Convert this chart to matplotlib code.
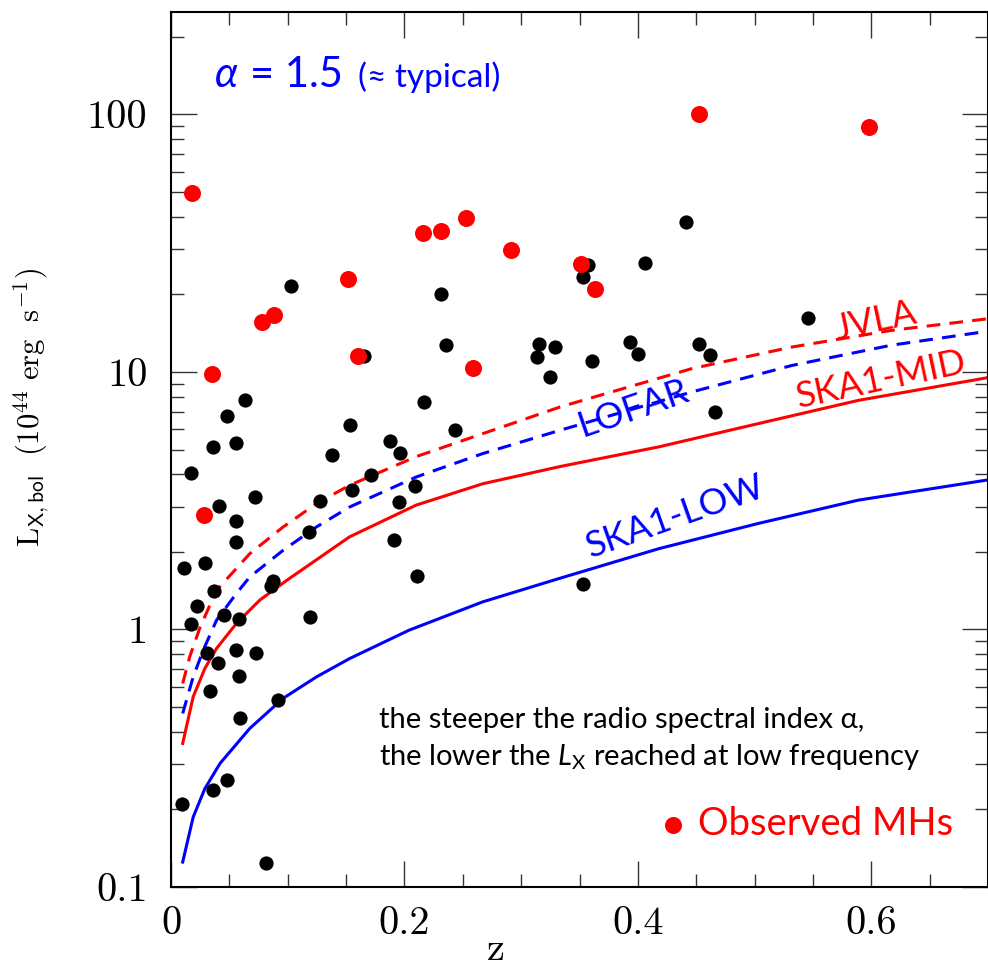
import numpy as np
import matplotlib
matplotlib.use("Agg")
import matplotlib.pyplot as plt

# observed halos: black = all clusters, red = observed mini-halos
z_black = [0.103, 0.231, 0.441, 0.357, 0.353, 0.406, 0.546, 0.165, 0.236, 0.315,
           0.329, 0.314, 0.325, 0.063, 0.048, 0.036, 0.056, 0.017, 0.217, 0.153,
           0.243, 0.138, 0.188, 0.196, 0.171, 0.155, 0.209, 0.128, 0.195, 0.041,
           0.072, 0.056, 0.056, 0.118, 0.191, 0.011, 0.029, 0.211, 0.037, 0.087,
           0.086, 0.361, 0.393, 0.400, 0.452, 0.462, 0.466, 0.353, 0.022, 0.017,
           0.045, 0.058, 0.119, 0.031, 0.040, 0.056, 0.073, 0.058, 0.033, 0.092,
           0.059, 0.048, 0.036, 0.009, 0.081]
L_black = [21.5, 20.1, 38.1, 26.0, 23.4, 26.4, 16.2, 11.5, 12.7, 12.9,
           12.5, 11.4, 9.6, 7.8, 6.75, 5.12, 5.3, 4.07, 7.64, 6.25,
           5.97, 4.78, 5.4, 4.83, 3.98, 3.47, 3.61, 3.15, 3.13, 3.01,
           3.27, 2.63, 2.18, 2.39, 2.22, 1.74, 1.82, 1.62, 1.41, 1.54,
           1.47, 11.0, 13.1, 11.7, 12.9, 11.6, 7.02, 1.50, 1.23, 1.055,
           1.14, 1.10, 1.12, 0.809, 0.738, 0.829, 0.812, 0.661, 0.576, 0.530,
           0.453, 0.261, 0.238, 0.210, 0.124]

z_red = [0.018, 0.152, 0.216, 0.231, 0.253, 0.291, 0.078, 0.088, 0.452, 0.598,
         0.351, 0.363, 0.035, 0.160, 0.259, 0.028]
L_red = [49.6, 23.0, 34.7, 35.4, 39.6, 29.8, 15.7, 16.7, 100.5, 89.8,
         26.3, 21.0, 9.8, 11.5, 10.4, 2.79]

# detection limits
z_jvla = [0.010, 0.016, 0.025, 0.039, 0.0675, 0.096, 0.1245, 0.153, 0.210, 0.267, 0.334, 0.446, 0.532, 0.617, 0.70]
L_jvla = [0.617, 0.783, 1.023, 1.42, 1.97, 2.50, 3.08, 3.63, 4.69, 5.76, 7.33, 10.3, 12.5, 14.5, 16.1]

z_lofar = [0.010, 0.019, 0.0276, 0.039, 0.056, 0.0675, 0.096, 0.1245, 0.153, 0.210, 0.267, 0.334, 0.446, 0.532, 0.617, 0.70]
L_lofar = [0.472, 0.655, 0.831, 1.087, 1.38, 1.60, 2.03, 2.50, 2.99, 3.91, 4.82, 5.95, 8.36, 10.6, 12.7, 14.4]

z_mid = [0.010, 0.019, 0.029, 0.039, 0.056, 0.076, 0.099, 0.153, 0.210, 0.267, 0.334, 0.418, 0.503, 0.589, 0.70]
L_mid = [0.361, 0.548, 0.706, 0.844, 1.055, 1.30, 1.55, 2.29, 3.04, 3.68, 4.30, 5.12, 6.30, 7.76, 9.51]

z_low = [0.010, 0.019, 0.029, 0.042, 0.0675, 0.096, 0.1245, 0.153, 0.204, 0.267, 0.331, 0.418, 0.503, 0.589, 0.70]
L_low = [0.125, 0.187, 0.241, 0.302, 0.413, 0.540, 0.654, 0.771, 0.994, 1.28, 1.57, 2.06, 2.58, 3.18, 3.81]

xticks = [0, 0.2, 0.4, 0.6]
xticklabels = ['0', '0.2', '0.4', '0.6']
yticks = [0.1, 1, 10, 100]
yticklabels = ['0.1', '1', '10', '100']

sans = ['Lato', 'DejaVu Sans']
plt.rcParams['mathtext.fontset'] = 'custom'
plt.rcParams['mathtext.rm'] = 'Lato'
plt.rcParams['mathtext.it'] = 'Lato:italic'

fig = plt.figure(figsize=(9.88, 9.72), dpi=100)
ax = fig.add_axes([0.1731, 0.08745, 0.8269, 0.9002])

dash = (4.5, 3)
ax.plot(z_jvla, L_jvla, color='#ff0000', lw=2.2, dashes=dash)
ax.plot(z_lofar, L_lofar, color='#0000ff', lw=2.2, dashes=dash)
ax.plot(z_mid, L_mid, color='#ff0000', lw=2.2)
ax.plot(z_low, L_low, color='#0000ff', lw=2.2)

ax.scatter(z_black, L_black, s=105, color='k', lw=0, zorder=3)
ax.scatter(z_red, L_red, s=150, color='#ff0000', lw=0, zorder=4, label='Observed MHs')

ax.set_yscale('log')
ax.set_xlim(0, 0.7)
ax.set_ylim(0.1, 250)

ax.set_xticks(xticks)
ax.set_xticklabels(xticklabels, family='cmr10', fontsize=29)
ax.set_xticks(np.arange(0, 0.71, 0.05), minor=True)
ax.set_yticks(yticks)
ax.set_yticklabels(yticklabels, family='cmr10', fontsize=29)
ax.tick_params(which='both', direction='in', top=True, right=True, width=1.0, color='#333333')
ax.tick_params(which='major', length=19)
ax.tick_params(which='minor', length=9.5)
ax.tick_params(axis='x', which='major', pad=14)
ax.tick_params(axis='y', which='major', pad=17)
for s in ax.spines.values():
    s.set_linewidth(1.5)

ax.set_xlabel('z', family='cmr10', fontsize=29)
ax.xaxis.set_label_coords(0.397, -0.052)
ax.set_ylabel(r'$\mathrm{L}_{\mathsf{X,bol}}\ \ (10^{44}\ \mathrm{erg}\ \ \mathrm{s}^{-1})$',
              fontsize=22, math_fontfamily='cm')
ax.yaxis.set_label_coords(-0.1457, 0.548)

# curve labels
lab = dict(family=sans, fontsize=26, ha='center', va='center', rotation_mode='anchor')
ax.text(0.604, 15.7, 'JVLA', color='#ff0000', rotation=12, **lab)
ax.text(0.609, 9.3, 'SKA1-MID', color='#ff0000', rotation=12, **lab)
ax.text(0.396, 7.2, 'LOFAR', color='#0000ff', rotation=19, **lab)
ax.text(0.432, 2.73, 'SKA1-LOW', color='#0000ff', rotation=19.5, **lab)

# top-left alpha note
fig.text(215 / 988, 1 - 87 / 972, '\u03b1', family=sans, style='italic', fontsize=30,
         color='#0000ff', va='baseline')
fig.text(250 / 988, 1 - 87 / 972, '= 1.5', family=sans, fontsize=30,
         color='#0000ff', va='baseline')
fig.text(358 / 988, 1 - 87 / 972, '(\u2248 typical)', family=sans, fontsize=24,
         color='#0000ff', va='baseline')

fig.text(379 / 988, 1 - 728 / 972, 'the steeper the radio spectral index \u03b1,',
         family=sans, fontsize=21, color='k', va='baseline')
fig.text(379 / 988, 1 - 765 / 972, r'the lower the $L_{\mathrm{X}}$ reached at low frequency',
         family=sans, fontsize=21, color='k', va='baseline')

leg = ax.legend(loc='center left', bbox_to_anchor=(0.6007, 0.072), frameon=False,
                prop={'family': sans, 'size': 27.5}, labelcolor='#ff0000',
                handlelength=0.6, handletextpad=0.35, borderpad=0, borderaxespad=0,
                scatterpoints=1)

fig.savefig('out.png', dpi=100)
